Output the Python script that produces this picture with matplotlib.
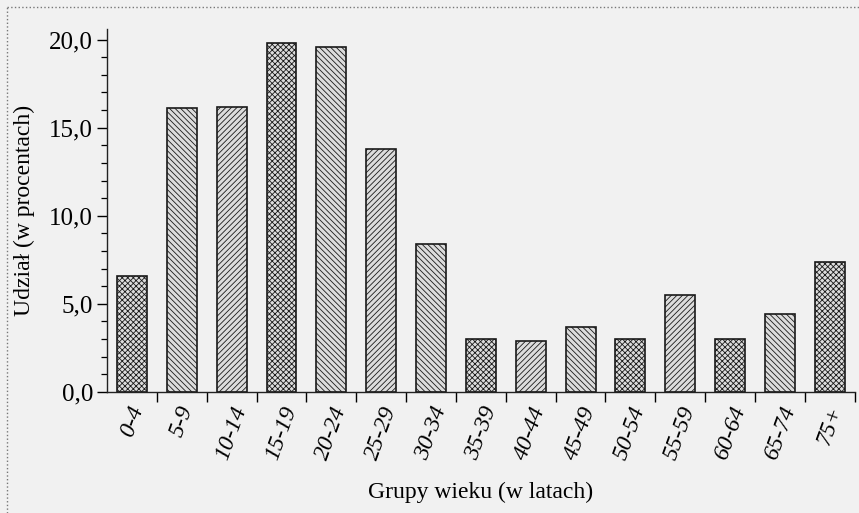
"""Age-group share bar chart (scanned-style reproduction)."""
import matplotlib

matplotlib.use("Agg")
import matplotlib.pyplot as plt
from matplotlib.lines import Line2D
from matplotlib.ticker import MultipleLocator

age_groups = ["0-4", "5-9", "10-14", "15-19", "20-24", "25-29", "30-34", "35-39",
              "40-44", "45-49", "50-54", "55-59", "60-64", "65-74", "75+"]
share_pct = [6.6, 16.1, 16.2, 19.8, 19.6, 13.8, 8.4, 3.0,
             2.9, 3.7, 3.0, 5.5, 3.0, 4.4, 7.4]
hatches = ["xxxxxx", "\\\\\\\\\\\\", "//////", "xxxxxx", "\\\\\\\\\\\\", "//////",
           "\\\\\\\\\\\\", "xxxxxx", "//////", "\\\\\\\\\\\\", "xxxxxx", "//////",
           "xxxxxx", "\\\\\\\\\\\\", "xxxxxx"]

plt.rcParams["font.family"] = ["Liberation Serif", "DejaVu Serif"]
plt.rcParams["hatch.linewidth"] = 0.6
plt.rcParams["hatch.color"] = "#3a3a3a"

BG = "#f1f1f1"

fig = plt.figure(figsize=(8.59, 5.13), dpi=100, facecolor=BG)
ax = fig.add_axes([0.1246, 0.2359, 0.8704, 0.7076], facecolor=BG)

x = list(range(len(age_groups)))
for xi, val, h in zip(x, share_pct, hatches):
    ax.bar(xi, val, width=0.6, color="#dcdcdc", edgecolor="#1a1a1a",
           linewidth=1.2, hatch=h, zorder=2)

ax.set_xlim(-0.5, len(age_groups) - 0.5)
ax.set_ylim(0, 20.6)

for side in ("top", "right"):
    ax.spines[side].set_visible(False)
for side in ("left", "bottom"):
    ax.spines[side].set_linewidth(1.0)
    ax.spines[side].set_color("#222222")

ax.yaxis.set_major_locator(MultipleLocator(5))
ax.yaxis.set_minor_locator(MultipleLocator(1))
ax.set_yticks([0, 5, 10, 15, 20])
ax.set_yticklabels([f"{v:.1f}".replace(".", ",") for v in [0, 5, 10, 15, 20]])
ax.tick_params(axis="y", which="major", length=7, width=1.0, labelsize=18, pad=3)
ax.tick_params(axis="y", which="minor", length=4, width=0.9)

# ticks sit between the bars, labels sit under the bars
ax.set_xticks([i + 0.5 for i in x])
ax.set_xticklabels([])
ax.set_xticks(x, minor=True)
ax.set_xticklabels(age_groups, minor=True, rotation=70, style="italic",
                   fontsize=17, ha="center", va="top")
ax.tick_params(axis="x", which="major", length=7, width=1.0)
ax.tick_params(axis="x", which="minor", length=0, pad=8)

ax.set_ylabel("Udział (w procentach)", fontsize=17, labelpad=10)
ax.set_xlabel("Grupy wieku (w latach)", fontsize=17, labelpad=14)

# dotted page frame from the scan
fig.add_artist(Line2D([0.008, 1.0], [0.986, 0.986], transform=fig.transFigure,
                      color="#777777", linewidth=1.0, linestyle=":"))
fig.add_artist(Line2D([0.008, 0.008], [0.0, 0.986], transform=fig.transFigure,
                      color="#777777", linewidth=1.0, linestyle=":"))

fig.savefig("out.png", dpi=100, facecolor=BG)
